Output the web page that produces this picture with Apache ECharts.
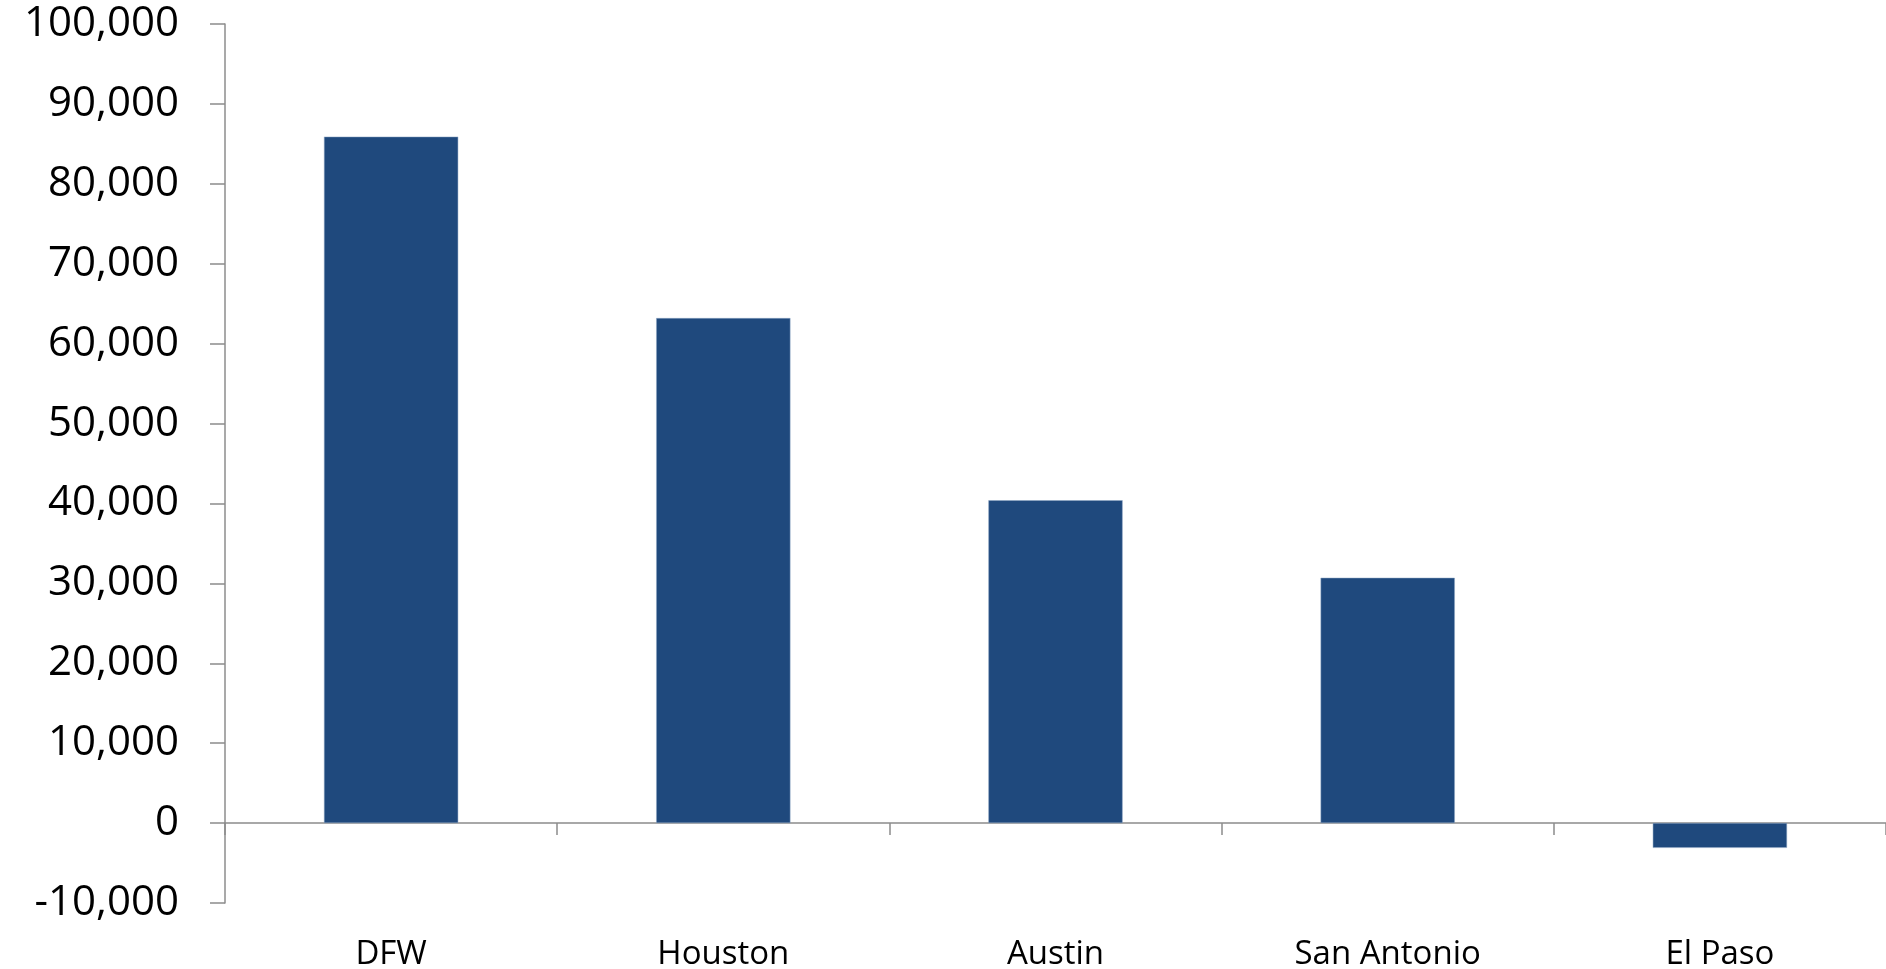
<!DOCTYPE html>
<html>
<head>
<meta charset="utf-8">
<script src="https://cdn.jsdelivr.net/npm/echarts@6/dist/echarts.min.js"></script>
<style>
html,body{margin:0;padding:0;background:#fff;}
#chart{width:1886px;height:969px;}
</style>
</head>
<body>
<div id="chart"></div>
<script>
const categories = ['DFW', 'Houston', 'Austin', 'San Antonio', 'El Paso'];
const values = [85900, 63200, 40400, 30700, -3100];
const yMin = -10000;
const yMax = 100000;
const yStep = 10000;

const chart = echarts.init(document.getElementById('chart'));
chart.setOption({
  animation: false,
  backgroundColor: '#ffffff',
  grid: { left: 225, right: 0, top: 24, bottom: 66, containLabel: false, outerBoundsMode: 'none' },
  xAxis: [{
    type: 'category',
    data: categories,
    position: 'bottom',
    axisLine: { show: false, onZero: false },
    axisTick: { show: false },
    axisLabel: { margin: 35, fontFamily: 'Open Sans', fontSize: 33, color: '#000' },
    splitLine: { show: false }
  }, {
    type: 'category',
    data: categories,
    position: 'bottom',
    axisLine: { show: true, onZero: true, lineStyle: { color: '#8c8c8c', width: 1.5 } },
    axisTick: { show: true, inside: false, length: 12, lineStyle: { color: '#8c8c8c', width: 1.5 } },
    axisLabel: { show: false },
    splitLine: { show: false }
  }],
  yAxis: {
    type: 'value',
    min: yMin,
    max: yMax,
    interval: yStep,
    axisLine: { show: true, onZero: false, lineStyle: { color: '#8c8c8c', width: 1.5 } },
    axisTick: { show: true, length: 15, lineStyle: { color: '#8c8c8c', width: 1.5 } },
    axisLabel: {
      margin: 46, fontFamily: 'Open Sans', fontSize: 42, color: '#000',
      formatter: v => v.toLocaleString('en-US')
    },
    splitLine: { show: false }
  },
  series: [{
    type: 'bar',
    xAxisIndex: 0,
    data: values,
    barWidth: '40.4%',
    itemStyle: { color: '#1F497D', borderColor: '#8ea6c4', borderWidth: 0.5 }
  }]
});
</script>
</body>
</html>
